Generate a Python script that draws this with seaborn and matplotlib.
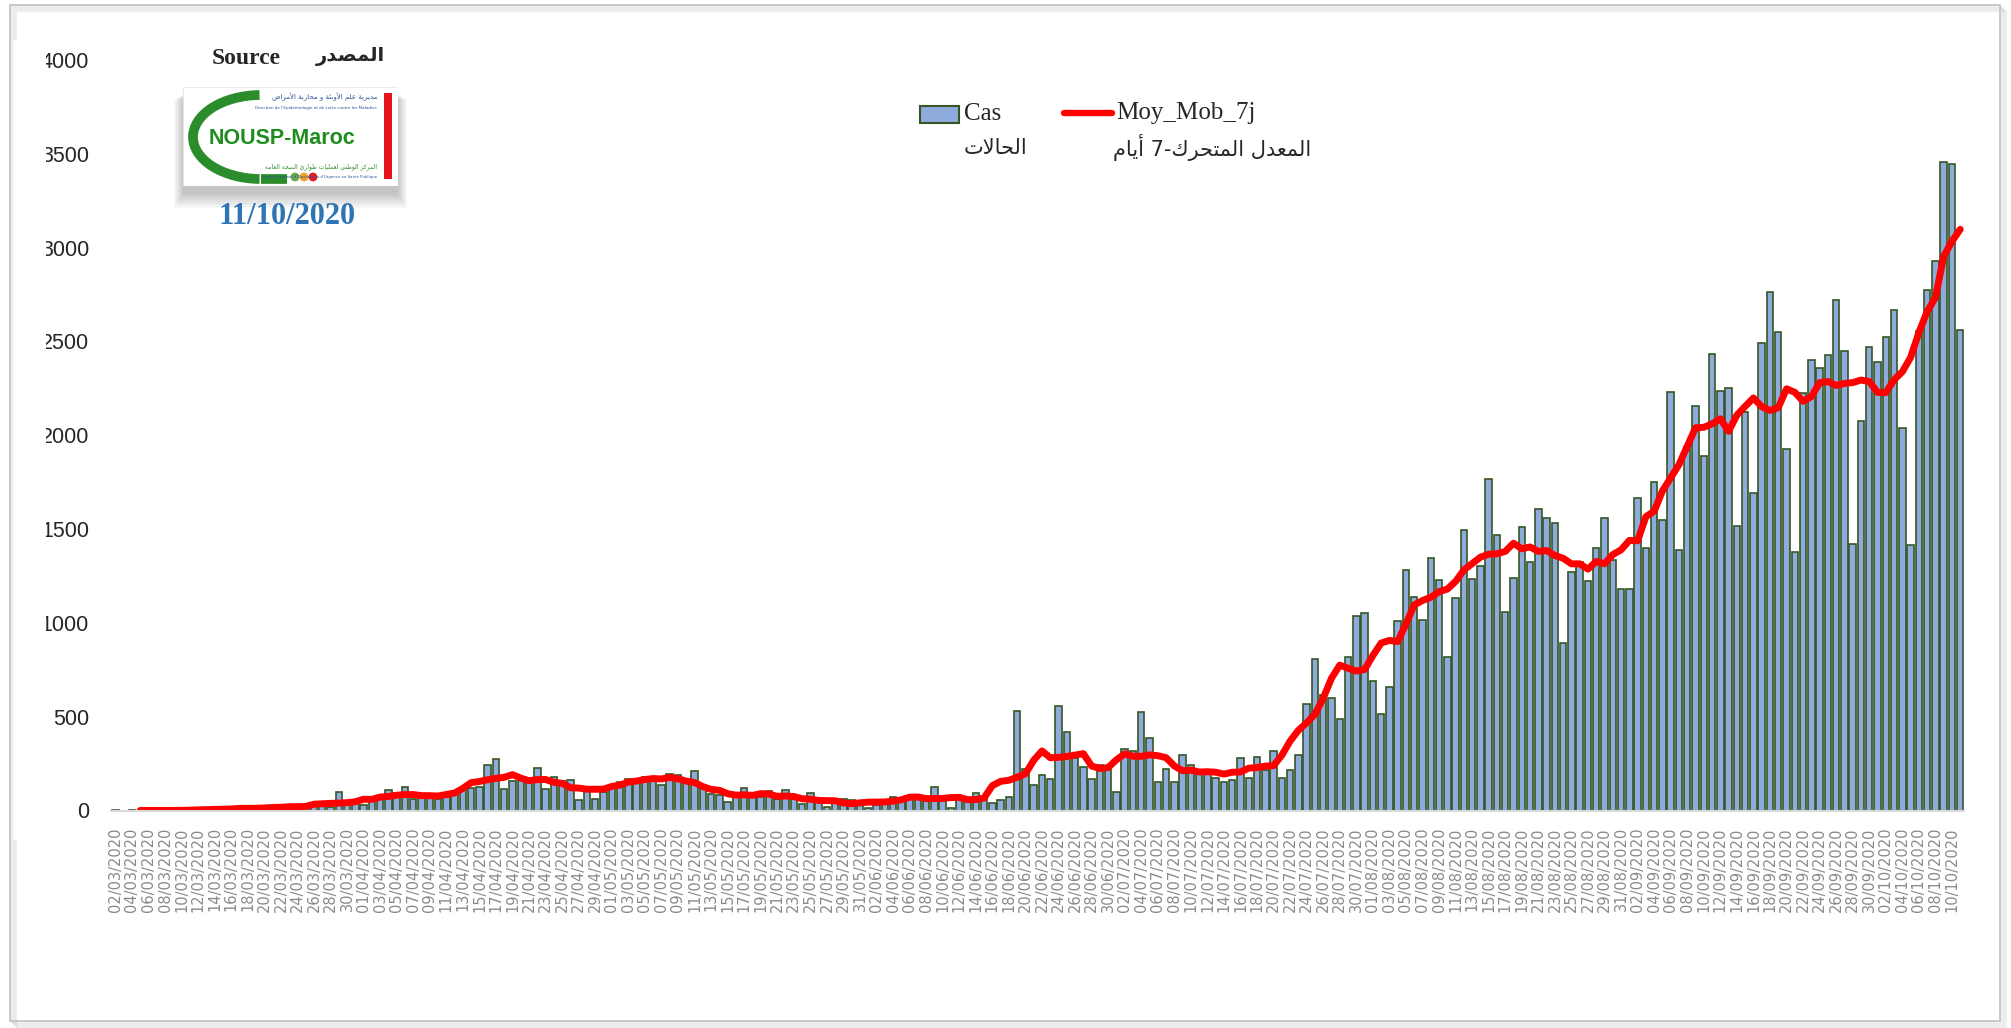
import numpy as np
import pandas as pd
import seaborn as sns
import matplotlib.pyplot as plt
from matplotlib import font_manager
from matplotlib.patches import Rectangle, Arc

# -----------------------------
# Data: daily cases, 02/03/2020 -> 11/10/2020
# -----------------------------

mars = [1, 0, 1, 0, 0, 0, 0, 0, 1, 2, 1, 1, 10, 11, 9, 7, 10, 9, 23, 10,
        15, 20, 25, 18, 30, 25, 18, 99, 36, 40]
avril = [27, 48, 59, 111, 93, 124, 63, 72, 72, 59, 72, 90, 113, 120, 127, 245, 274, 113, 158, 161,
         161, 227, 113, 179, 155, 161, 54, 125, 63, 99]
mai = [138, 152, 167, 152, 179, 174, 138, 194, 188, 152, 210, 125, 90, 84, 45, 81, 120, 81, 72, 102,
       63, 111, 63, 36, 93, 54, 18, 48, 63, 57, 30]
juin = [14, 27, 48, 72, 68, 59, 59, 66, 125, 54, 13, 72, 59, 93, 75, 39, 57, 72, 532, 219,
        134, 188, 170, 559, 421, 278, 233, 166, 240, 224]
juillet = [98, 326, 317, 523, 385, 152, 220, 152, 296, 242, 215, 206, 174, 152, 161, 278, 174, 283, 215, 317,
           174, 215, 296, 568, 806, 618, 600, 487, 819, 1039, 1055]
aout = [688, 516, 656, 1011, 1283, 1136, 1013, 1344, 1228, 819, 1131, 1493, 1233, 1301, 1769, 1466, 1059, 1240, 1509, 1323,
        1606, 1561, 1534, 893, 1273, 1323, 1221, 1398, 1561, 1335, 1183]
septembre = [1183, 1667, 1398, 1749, 1549, 2233, 1387, 1939, 2158, 1890, 2433, 2238, 2251, 1516, 2126, 1693, 2492, 2762, 2551, 1925,
             1377, 2227, 2399, 2361, 2428, 2722, 2447, 1423, 2078, 2473]
octobre = [2393, 2524, 2666, 2040, 1417, 2554, 2776, 2928, 3455, 3447, 2562]

cas = mars + avril + mai + juin + juillet + aout + septembre + octobre
dates = pd.date_range("2020-03-02", periods=len(cas), freq="D")
date_labels = dates.strftime("%d/%m/%Y")

# centred 7 day moving average, as in the source sheet (first 3 days empty)
moy = pd.Series(cas).rolling(7, center=True, min_periods=1).mean()
moy.iloc[:3] = np.nan

y_ticks = list(range(0, 4001, 500))

# -----------------------------
# Arabic text: matplotlib has no shaping, so pick presentation forms by hand
# -----------------------------

FORMS = {}
for ch, base, n in [("ا", 0xFE8D, 2), ("أ", 0xFE83, 2), ("د", 0xFEA9, 2), ("ر", 0xFEAD, 2),
                    ("ز", 0xFEAF, 2), ("و", 0xFEED, 2), ("ة", 0xFE93, 2), ("ب", 0xFE8F, 4),
                    ("ت", 0xFE95, 4), ("ح", 0xFEA1, 4), ("ص", 0xFEB9, 4), ("ض", 0xFEBD, 4),
                    ("ط", 0xFEC1, 4), ("ع", 0xFEC9, 4), ("ك", 0xFED9, 4), ("ل", 0xFEDD, 4),
                    ("م", 0xFEE1, 4), ("ن", 0xFEE5, 4), ("ي", 0xFEF1, 4), ("ئ", 0xFE89, 4),
                    ("ه", 0xFEE9, 4)]:
    FORMS[ch] = [chr(base + i) for i in range(n)]


def ar(text):
    out = []
    i = 0
    while i < len(text):
        c = text[i]
        if c not in FORMS:
            out.append(c)
            i += 1
            continue
        prev = text[i - 1] if i > 0 else ""
        nxt = text[i + 1] if i + 1 < len(text) else ""
        joined = prev in FORMS and len(FORMS[prev]) == 4
        if c == "ل" and nxt in ("ا", "أ"):
            lig = 0xFEFB if nxt == "ا" else 0xFEF7
            out.append(chr(lig + int(joined)))
            i += 2
            continue
        links = len(FORMS[c]) == 4 and nxt in FORMS
        if links:
            out.append(FORMS[c][3 if joined else 2])
        else:
            out.append(FORMS[c][1 if joined else 0])
        i += 1
    return "".join(out[::-1])


# -----------------------------
# Style
# -----------------------------

sns.set_style("white")
installed = {f.name for f in font_manager.fontManager.ttflist}
narrow = "Liberation Sans Narrow" if "Liberation Sans Narrow" in installed else "Liberation Sans"
plt.rcParams["font.family"] = ["DejaVu Sans"]

W, H = 2011, 1028
fill = "#8FAADC"
edge = "#375623"


def fx(x):
    return x / W


def fy(y):
    return 1 - y / H


fig = plt.figure(figsize=(W / 100, H / 100), dpi=100)
ax = fig.add_axes([fx(111.3), fy(810.5), (1964.4 - 111.3) / W, (810.5 - 60) / H])

# -----------------------------
# Bars + moving average
# -----------------------------

sns.barplot(x=list(date_labels), y=cas, color=fill, saturation=1, edgecolor=edge,
            linewidth=1.2, width=0.78, errorbar=None, ax=ax)
for p in ax.patches:
    if p.get_height() == 0:
        p.set_visible(False)

idx = np.arange(len(cas))
sns.lineplot(x=idx[3:], y=moy.values[3:], color="#FF0000", linewidth=5, ax=ax)
ax.lines[-1].set_solid_capstyle("round")
ax.lines[-1].set_solid_joinstyle("round")

ax.set_xlim(-0.5, len(cas) - 0.5)
ax.set_ylim(0, 4000)
ax.set_yticks(y_ticks)
ax.set_yticklabels([str(v) for v in y_ticks], fontsize=15.5, family=narrow, color="#262626")
ax.set_xticks(idx[::2])
ax.set_xticklabels(date_labels[::2], rotation=90, fontsize=10.5, color="#8a8a8a", family="DejaVu Sans")
ax.tick_params(axis="y", length=0, pad=16)
ax.tick_params(axis="x", length=0, pad=12)
ax.set_xlabel("")
ax.set_ylabel("")
for s in ["top", "right", "left"]:
    ax.spines[s].set_visible(False)
ax.spines["bottom"].set_color("#d9d9d9")
ax.spines["bottom"].set_linewidth(1.5)
ax.set_facecolor("none")

# left edge of the y labels is cut off in the original picture
fig.add_artist(Rectangle((fx(13), fy(840)), (46 - 13) / W, 800 / H, transform=fig.transFigure,
                         facecolor="white", edgecolor="none", zorder=10))

# -----------------------------
# Legend (drawn by hand: two lines per entry)
# -----------------------------

fig.add_artist(Rectangle((fx(920), fy(123)), 39 / W, 17 / H, transform=fig.transFigure,
                         facecolor=fill, edgecolor=edge, linewidth=1.5))
fig.add_artist(plt.Line2D([fx(1064), fx(1112)], [fy(113), fy(113)], transform=fig.transFigure,
                          color="#FF0000", linewidth=4.6))
fig.text(fx(964), fy(114), "Cas", fontsize=18, family="Liberation Serif", color="#262626", va="center")
fig.text(fx(964), fy(148), ar("الحالات"), fontsize=15, family="DejaVu Sans", color="#262626", va="center")
fig.text(fx(1116), fy(113), "Moy_Mob_7j", fontsize=18, family="Liberation Serif", color="#262626", va="center")
fig.text(fx(1113), fy(148), ar("المعدل المتحرك-7 أيام"), fontsize=15, family="DejaVu Sans",
         color="#262626", va="center")

# -----------------------------
# Source block with logo
# -----------------------------

fig.text(fx(212), fy(58), "Source", fontsize=17, weight="bold", family="Liberation Serif", va="center")
fig.text(fx(316), fy(57), ar("المصدر"), fontsize=14, weight="bold", family="DejaVu Sans", va="center")
fig.text(fx(287), fy(216), "11/10/2020", fontsize=22, weight="bold", family="Liberation Serif",
         color="#2E75B6", ha="center", va="center")

for k in range(10):
    fig.add_artist(Rectangle((fx(183 - k), fy(194 + k * 1.6)), (215 + 2 * k) / W, (100 + k) / H,
                             transform=fig.transFigure, facecolor="#000000", alpha=0.025,
                             edgecolor="none", zorder=-1))

lax = fig.add_axes([fx(183), fy(186), 215 / W, 99 / H])
lax.set_xlim(0, 215)
lax.set_ylim(99, 0)
lax.axis("off")
lax.add_patch(Rectangle((0, 0), 215, 99, facecolor="white", edgecolor="#e6e6e6", linewidth=0.6))
lax.add_patch(Arc((78, 50), 136, 84, theta1=92, theta2=268, color="#2A8C2A", linewidth=7))
lax.plot([78, 104], [92, 92], color="#2A8C2A", linewidth=7, solid_capstyle="butt")
lax.scatter([112, 121, 130], [90, 90, 90], s=28, color=["#6AA84F", "#F0A030", "#E02020"], zorder=3)
lax.add_patch(Rectangle((201, 6), 8, 86, facecolor="#E8141C", edgecolor="none"))
lax.text(26, 52, "NOUSP-Maroc", fontsize=15.5, weight="bold", family=narrow, color="#1E8C1E",
         va="center", ha="left")
lax.text(194, 10, ar("مديرية علم الأوبئة و محاربة الأمراض"), fontsize=5, color="#2F5597",
         ha="right", va="center", family="DejaVu Sans")
lax.text(194, 21, "Direction de l'Epidémiologie et de Lutte contre les Maladies", fontsize=3,
         color="#2F5597", ha="right", va="center")
lax.text(194, 80, ar("المركز الوطني لعمليات طوارئ الصحة العامة"), fontsize=4.3, color="#2A8C2A",
         ha="right", va="center", family="DejaVu Sans")
lax.text(194, 90, "Centre National d'Opérations d'Urgence en Santé Publique", fontsize=2.8,
         color="#2F5597", ha="right", va="center")

# -----------------------------
# Outer frame with soft shadow
# -----------------------------

for k in range(1, 7):
    fig.add_artist(Rectangle((fx(10 + k), fy(1021 + k)), (1990) / W, (1016) / H, transform=fig.transFigure,
                             facecolor="none", edgecolor="#000000", alpha=0.05, linewidth=1, zorder=-2))
fig.add_artist(Rectangle((fx(10), fy(1021)), 1990 / W, 1016 / H, transform=fig.transFigure,
                         facecolor="none", edgecolor="#c4c4c4", linewidth=1.3))

fig.savefig("out.png", dpi=100)
